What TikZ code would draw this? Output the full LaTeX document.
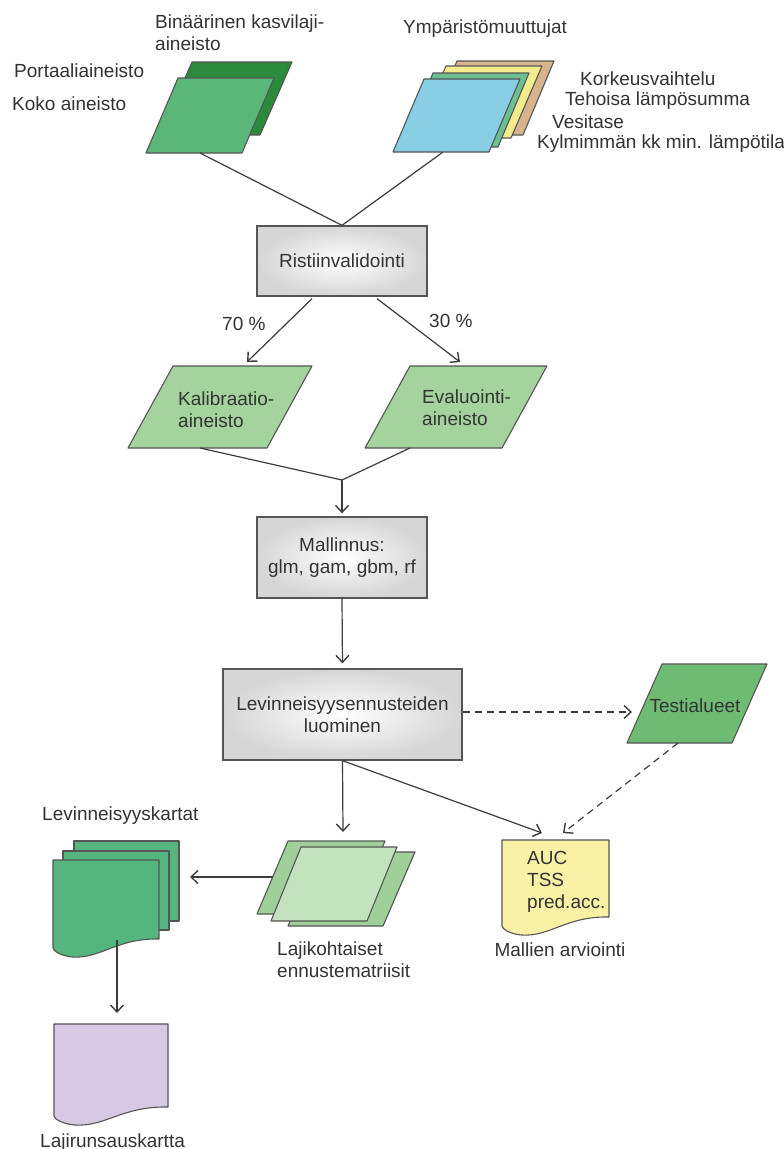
\documentclass[tikz,border=0pt]{standalone}
\usepackage{fontspec}
\setmainfont{Liberation Sans}
\usetikzlibrary{arrows.meta,calc}
\definecolor{txt}{HTML}{333333}
\definecolor{ln}{HTML}{3C3C3C}
\definecolor{bord}{HTML}{555555}
\definecolor{dkgreen}{HTML}{2B8A3B}
\definecolor{ltgreen}{HTML}{5BB777}
\definecolor{tan}{HTML}{D8B48E}
\definecolor{yel}{HTML}{F4EC8C}
\definecolor{medgreen}{HTML}{6CC08F}
\definecolor{skyblue}{HTML}{88CFE6}
\definecolor{paragreen}{HTML}{A4D39D}
\definecolor{testgreen}{HTML}{6EBB74}
\definecolor{lajiback}{HTML}{A0D09A}
\definecolor{lajifront}{HTML}{C3E3BF}
\definecolor{docgreen}{HTML}{55B57E}
\definecolor{lilac}{HTML}{D7C9E4}
\definecolor{paleyel}{HTML}{F9F1A5}
\definecolor{shadeout}{HTML}{D6D6D6}
\newcommand{\paragram}[7]{% name, fill, tlx, top, w, h, skew
  \filldraw[fill=#2, shp] (#3,#4) -- ({#3+#5},#4) -- ({#3+#5-#7},{#4+#6}) -- ({#3-#7},{#4+#6}) -- cycle;
  \coordinate (#1) at ({#3+#5/2-#7/2},{#4+#6/2});}
\newcommand{\docshape}[6]{% name, fill, L, T, w, h
  \filldraw[fill=#2, shp] (#3,#4) -- ({#3+#5},#4) -- ({#3+#5},{#4+#6})
    .. controls ({#3+0.6*#5},{#4+#6-1}) and ({#3+0.45*#5},{#4+#6+20}) .. ({#3+0.18*#5},{#4+#6+18})
    .. controls ({#3+0.08*#5},{#4+#6+17}) and (#3,{#4+#6+12}) .. (#3,{#4+#6+9}) -- cycle;
  \coordinate (#1) at ({#3+#5/2},{#4+#6/2});}
\begin{document}
\begin{tikzpicture}[x=1pt,y=-1pt,
  font=\fontsize{19}{22}\selectfont,
  shp/.style={draw=bord, line width=1.1pt, line join=round},
  lbl/.style={text=txt, inner sep=0pt, anchor=base west},
  clbl/.style={text=txt, inner sep=0pt, anchor=base},
  proc/.style={draw=bord, line width=1.3pt, inner color=white, outer color=shadeout,
    text=txt, align=center, inner sep=0pt},
  conn/.style={draw=ln, line width=1.2pt},
  arr/.style={conn, -{Straight Barb[length=7pt,width=13pt,line width=1.4pt]}},
  darr/.style={arr, dashed, dash pattern=on 7pt off 5pt}]
\useasboundingbox[fill=white] (0,0) rectangle (784,1149);

% --- top-left stack
\paragram{bin}{dkgreen}{192}{62}{100}{73}{32}
\paragram{koko}{ltgreen}{178}{78}{96}{75}{32}
\node[lbl] (tBin1) at (155,28) {Binäärinen kasvilaji-};
\node[lbl] (tBin2) at (155,50) {aineisto};
\node[lbl] (tPort) at (14,77) {Portaaliaineisto};
\node[lbl] (tKoko) at (12,110) {Koko aineisto};

% --- top-right stack
\paragram{kork}{tan}{457}{61}{97}{74}{31}
\paragram{teho}{yel}{446}{66}{96}{72}{31}
\paragram{vesi}{medgreen}{433}{73}{96}{74}{31}
\paragram{kylm}{skyblue}{424}{79}{96}{73}{31}
\node[lbl] (tYmp) at (403,33) {Ympäristömuuttujat};
\node[lbl] (tKork) at (580,85) {Korkeusvaihtelu};
\node[lbl] (tTeho) at (565,105) {Tehoisa lämpösumma};
\node[lbl] (tVesi) at (552,128) {Vesitase};
\node[lbl] (tKylm) at (537,148) {Kylmimmän kk min. lämpötila};

% --- Ristiinvalidointi
\node[proc, minimum width=170pt, minimum height=70pt] (risti) at (342,261) {Ristiinvalidointi};
\coordinate (kokoS) at (200,153);
\coordinate (kylmS) at (443,152);
\draw[conn] (kokoS) -- (risti.north);
\draw[conn] (kylmS) -- (risti.north);

% --- calibration / evaluation
\paragram{kal}{paragreen}{173}{366}{139}{82}{45}
\paragram{eva}{paragreen}{410}{366}{137}{82}{45}
\node[lbl] (tKal1) at (178,405) {Kalibraatio-};
\node[lbl] (tKal2) at (178,427) {aineisto};
\node[lbl] (tEva1) at (422,403) {Evaluointi-};
\node[lbl] (tEva2) at (422,425) {aineisto};
\coordinate (kalN) at (247,362);
\coordinate (evaN) at (460,362);
\draw[arr] ($(risti.south)+(-30,2)$) -- (kalN);
\draw[arr] ($(risti.south)+(35,2)$) -- (evaN);
\node[lbl] (t70) at (222,330) {70 \%};
\node[lbl] (t30) at (429,327) {30 \%};

% --- Mallinnus
\node[proc, minimum width=170pt, minimum height=81pt] (mal) at (342,557.5) {Mallinnus:\\glm, gam, gbm, rf};
\coordinate (kalS) at (200,448);
\coordinate (evaS) at (410,448);
\coordinate (join) at (342,480);
\draw[conn] (kalS) -- (join);
\draw[conn] (evaS) -- (join);
\draw[arr, shorten >=3pt] (join) -- (mal.north);

% --- Levinneisyysennusteiden luominen
\node[proc, minimum width=239pt, minimum height=91pt] (lev) at (342.5,714.5) {Levinneisyysennusteiden\\luominen};
\draw[arr, shorten >=5pt] (mal.south) -- (lev.north);

% --- Testialueet
\paragram{test}{testgreen}{662}{664}{105}{79}{35}
\node[clbl] (tTest) at (695,712) {Testialueet};
\coordinate (testW) at (632,712);
\coordinate (testS) at (678,743);
\draw[darr] (lev.east |- testW) -- (testW);

% --- Mallien arviointi
\docshape{auc}{paleyel}{502}{840}{107}{77}
\node[lbl] (tAUC) at (527,864) {AUC};
\node[lbl] (tTSS) at (527,886) {TSS};
\node[lbl] (tPred) at (527,908) {pred.acc.};
\node[clbl] (tMall) at (560,956) {Mallien arviointi};
\coordinate (aucA) at (542,833);
\coordinate (aucB) at (563,833);
\draw[arr] (lev.south) -- (aucA);
\draw[darr] (testS) -- (aucB);

% --- Lajikohtaiset ennustematriisit
\paragram{lajiB}{lajiback}{288}{841}{97}{73}{31}
\paragram{lajiR}{lajiback}{320}{852}{95}{74}{32}
\paragram{laji}{lajifront}{301}{847}{96}{74}{30}
\node[lbl] (tLaji1) at (277,955) {Lajikohtaiset};
\node[lbl] (tLaji2) at (277,977) {ennustematriisit};
\coordinate (lajiN) at (343,832);
\draw[arr] (lev.south) -- (lajiN);

% --- Levinneisyyskartat
\filldraw[fill=docgreen, shp] (74,841) rectangle (179,921);
\filldraw[fill=docgreen, shp] (63,851) rectangle (169,930);
\docshape{kartat}{docgreen}{53}{860}{106}{79}
\node[lbl] (tKart) at (42,820) {Levinneisyyskartat};
\coordinate (lajiW) at (273,877);
\coordinate (kartE) at (190,877);
\draw[arr] (lajiW) -- (kartE);

% --- Lajirunsauskartta
\docshape{runsaus}{lilac}{54}{1024}{114}{83}
\node[lbl] (tRuns) at (40,1147) {Lajirunsauskartta};
\coordinate (kartS) at (117,940);
\coordinate (runsN) at (117,1013);
\draw[arr] (kartS) -- (runsN);
\end{tikzpicture}
\end{document}
